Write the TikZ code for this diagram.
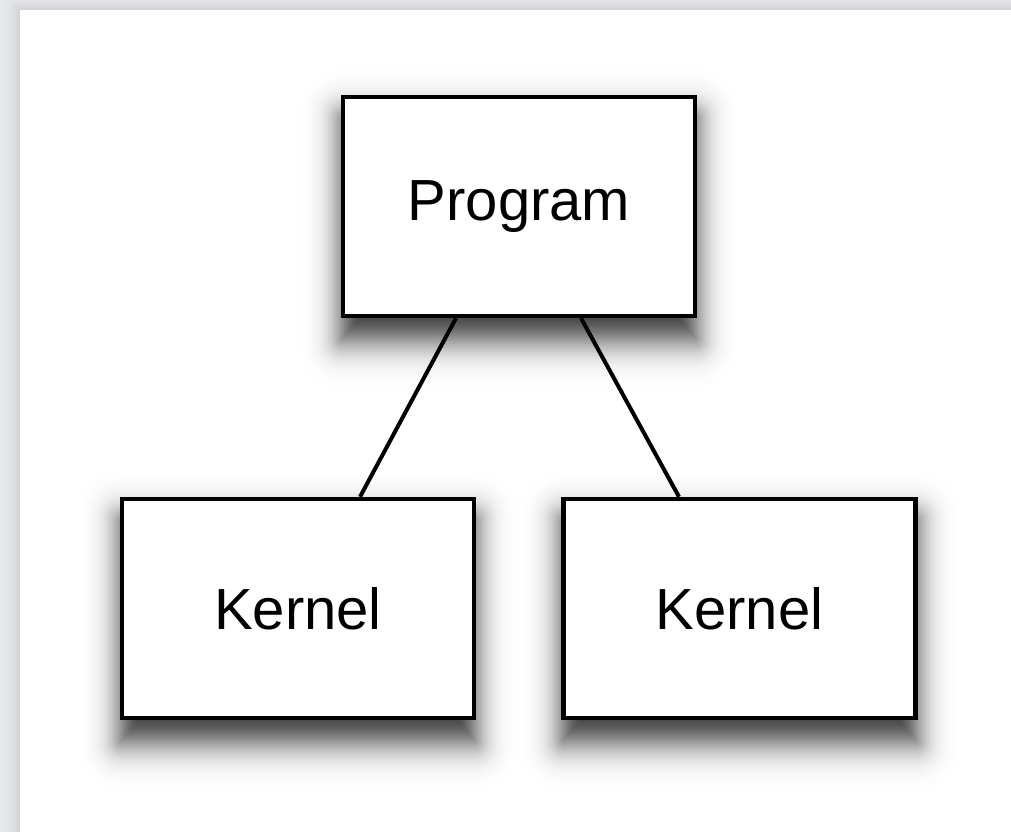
\documentclass[tikz,border=0pt]{standalone}
\usepackage{fontspec}
\setmainfont{Liberation Sans}
\pgfdeclarelayer{page}
\pgfdeclarelayer{shade}
\pgfsetlayers{page,shade,main}
\definecolor{desk}{RGB}{231,233,236}
\begin{document}
\begin{tikzpicture}[x=0.75pt,y=-0.75pt,
  box/.style={draw=black, line width=3.2pt, fill=white, rectangle, inner sep=0pt,
    minimum width=264pt, minimum height=164.25pt, font=\fontsize{43.5}{50}\selectfont},
  link/.style={draw=black, line width=3pt}]
  \useasboundingbox (0,0) rectangle (1011,832);
  % desk and paper sheet; the soft edge shadow is built from stacked rectangles
  % whose tone follows a logistic approximation of the normal distribution
  \begin{pgfonlayer}{page}
    \fill[desk] (0,0) rectangle (1011,832);
    \foreach \z in {2.6,2.5,...,-2.6}{
      \pgfmathsetmacro{\e}{9*\z}
      \pgfmathsetmacro{\pc}{22*(1/(1+exp(1.702*\z))-0.0118)/0.9882}
      \fill[black!\pc!desk] (20-\e,10-\e) rectangle (1040,860);
    }
    \fill[white] (20,10) rectangle (1040,860);
  \end{pgfonlayer}
  % boxes
  \node[box] (prog) at (519,206.5) {Program};
  \node[box] (k1) at (298,608.5) {Kernel};
  \node[box] (k2) at (739.5,608.5) {Kernel};
  % drop shadows under the boxes
  \begin{pgfonlayer}{shade}
    \foreach \n in {prog,k1,k2}{
      \foreach \z in {2.6,2.5,...,-2.6}{
        \pgfmathsetmacro{\ex}{16*\z}
        \pgfmathsetmacro{\ey}{19*\z}
        \pgfmathsetmacro{\pc}{82*(1/(1+exp(1.702*\z))-0.0118)/0.9882}
        \pgfmathsetmacro{\rc}{0.75*max(\ex+2,1)}
        \fill[black!\pc!white, rounded corners=\rc pt]
          ([shift={(-\ex,22-\ey)}]\n.north west) rectangle ([shift={(\ex,22+\ey)}]\n.south east);
      }
    }
  \end{pgfonlayer}
  % connector end points on the box borders
  \path (prog.south) ++(-63,0) coordinate (p1);
  \path (k1.north) ++(62,0) coordinate (q1);
  \path (prog.south) ++(62,0) coordinate (p2);
  \path (k2.north) ++(-60.5,0) coordinate (q2);
  % connectors
  \draw[link] (p1) -- (q1);
  \draw[link] (p2) -- (q2);
\end{tikzpicture}
\end{document}
